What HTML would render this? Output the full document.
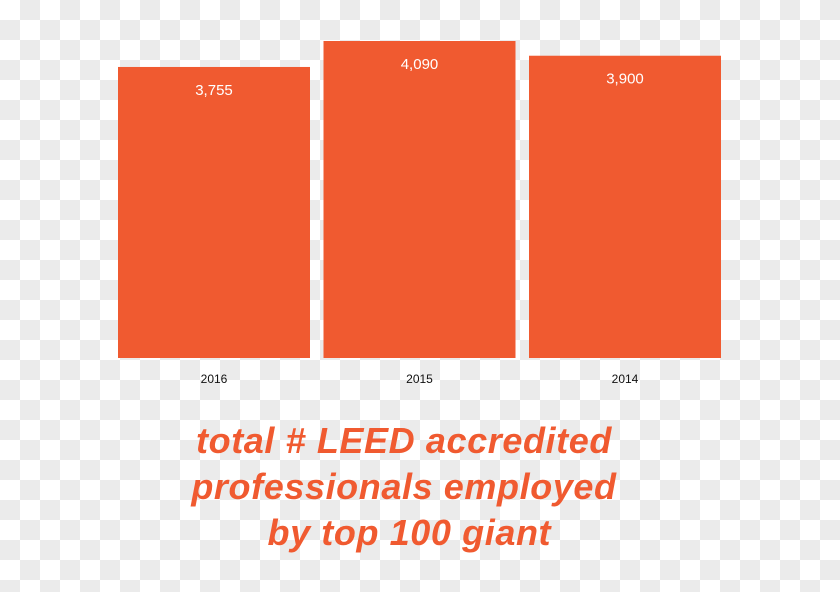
<!DOCTYPE html>
<html><head><meta charset="utf-8"><style>
html,body{margin:0;padding:0}
body{width:840px;height:592px;overflow:hidden;position:relative;font-family:"Liberation Sans",sans-serif;
background:conic-gradient(#ebebeb 25%,#fff 0 50%,#ebebeb 0 75%,#fff 0);background-size:40px 40px;}
#title{position:absolute;left:144px;top:418px;width:520px;text-align:center;color:#f05a30;font-weight:bold;font-style:italic;font-size:36px;line-height:46px;letter-spacing:0.6px}
</style></head><body>
<svg id="chart" width="840" height="420" style="position:absolute;left:0;top:0"></svg>
<div id="title">total # LEED accredited<br>professionals employed<br>&nbsp;by top 100 giant</div>
<script>
const categories=["2016","2015","2014"];
const values=[3755,4090,3900];
const valueLabels=["3,755","4,090","3,900"];
const svg=document.getElementById('chart');
const NS="http://www.w3.org/2000/svg";
const baseY=358, kY=317/4090, x0=118, step=205.5, bw=192;
function yPos(v){return baseY-v*kY;}
function xPos(i){return x0+i*step;}
categories.forEach((c,i)=>{
  const r=document.createElementNS(NS,'rect');
  r.setAttribute('x',xPos(i));r.setAttribute('y',yPos(values[i]));
  r.setAttribute('width',bw);r.setAttribute('height',baseY-yPos(values[i]));
  r.setAttribute('fill','#f05a30');
  
  
  svg.appendChild(r);
  const t=document.createElementNS(NS,'text');
  t.setAttribute('x',xPos(i)+bw/2);t.setAttribute('y',yPos(values[i])+28);
  t.setAttribute('text-anchor','middle');t.setAttribute('fill','#fff');t.setAttribute('font-size','15');
  t.textContent=valueLabels[i];
  
  
  svg.appendChild(t);
  const l=document.createElementNS(NS,'text');
  l.setAttribute('x',xPos(i)+bw/2);l.setAttribute('y',383);
  l.setAttribute('text-anchor','middle');l.setAttribute('fill','#111');l.setAttribute('font-size','12');
  l.textContent=c;
  
  
  svg.appendChild(l);
});
</script>
</body></html>
